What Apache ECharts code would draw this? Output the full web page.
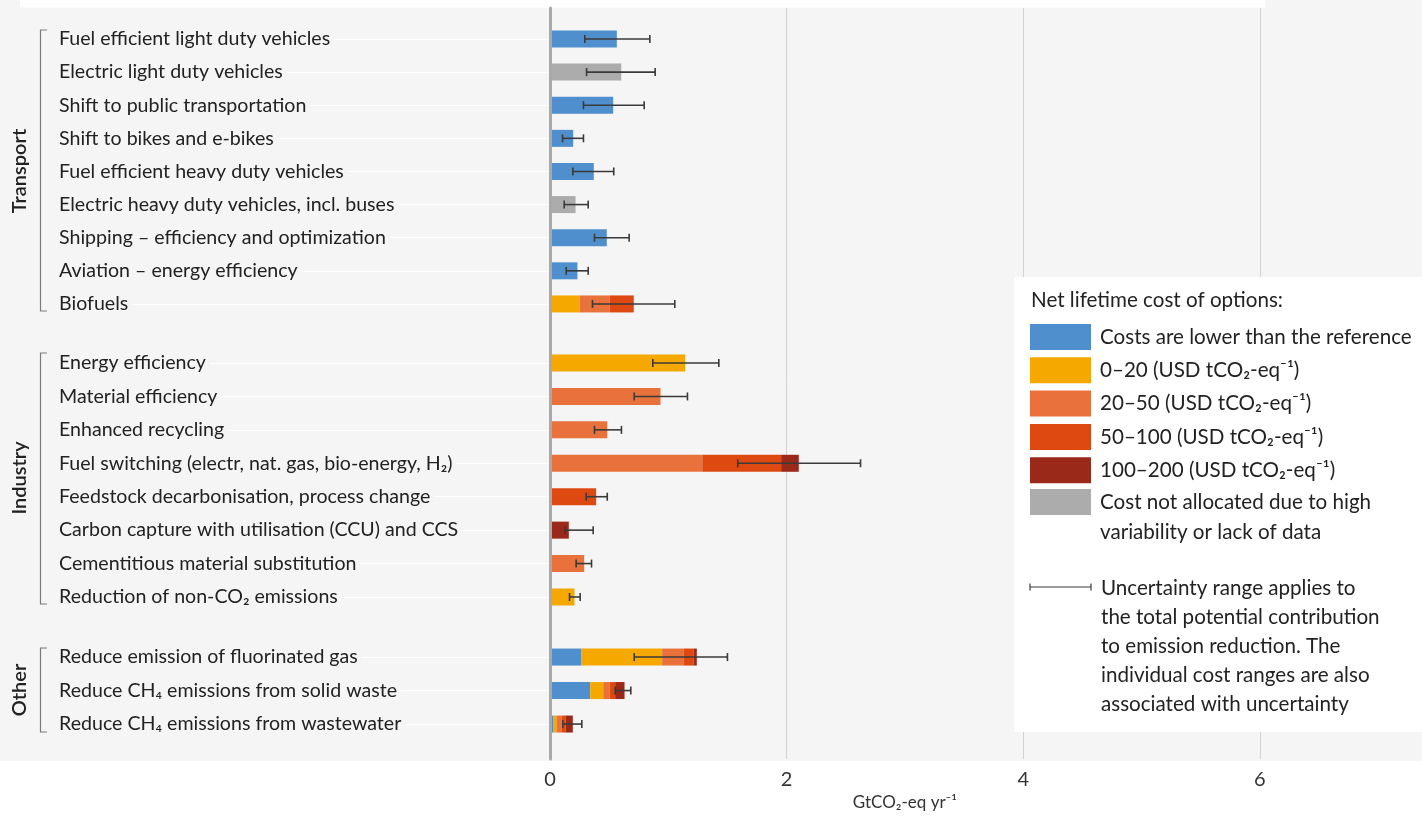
<!DOCTYPE html>
<html>
<head>
<meta charset="utf-8">
<script src="https://cdn.jsdelivr.net/npm/echarts@6/dist/echarts.min.js"></script>
<style>
  html, body { margin: 0; padding: 0; background: #ffffff; }
  #chart { width: 1422px; height: 816px; }
</style>
</head>
<body>
<div id="chart"></div>
<script>
// ---- Categories -----------------------------------------------------------
const transportRows = [
  'Fuel efficient light duty vehicles',
  'Electric light duty vehicles',
  'Shift to public transportation',
  'Shift to bikes and e-bikes',
  'Fuel efficient heavy duty vehicles',
  'Electric heavy duty vehicles, incl. buses',
  'Shipping – efficiency and optimization',
  'Aviation – energy efficiency',
  'Biofuels'
];
const industryRows = [
  'Energy efficiency',
  'Material efficiency',
  'Enhanced recycling',
  'Fuel switching (electr, nat. gas, bio-energy, H₂)',
  'Feedstock decarbonisation, process change',
  'Carbon capture with utilisation (CCU) and CCS',
  'Cementitious material substitution',
  'Reduction of non-CO₂ emissions'
];
const otherRows = [
  'Reduce emission of fluorinated gas',
  'Reduce CH₄ emissions from solid waste',
  'Reduce CH₄ emissions from wastewater'
];
const groupNames = ['Transport', 'Industry', 'Other'];

// ---- Cost classes ----------------------------------------------------------
const costClasses = [
  'Costs are lower than the reference',
  '0–20 (USD tCO₂-eq⁻¹)',
  '20–50 (USD tCO₂-eq⁻¹)',
  '50–100 (USD tCO₂-eq⁻¹)',
  '100–200 (USD tCO₂-eq⁻¹)',
  'Cost not allocated due to high variability or lack of data'
];
const costColors = ['#4f8fcd', '#f5a800', '#e8713c', '#de4911', '#9b291a', '#acacac'];

// ---- Potentials (GtCO2-eq/yr) per cost class --------------------------------
const transportLower   = [0.565, 0, 0.534, 0.196, 0.370, 0, 0.480, 0.232, 0];
const transport0to20   = [0, 0, 0, 0, 0, 0, 0, 0, 0.250];
const transport20to50  = [0, 0, 0, 0, 0, 0, 0, 0, 0.253];
const transport50to100 = [0, 0, 0, 0, 0, 0, 0, 0, 0.205];
const transport100to200= [0, 0, 0, 0, 0, 0, 0, 0, 0];
const transportNA      = [0, 0.602, 0, 0, 0, 0.216, 0, 0, 0];
const transportErrLow  = [0.294, 0.309, 0.283, 0.106, 0.193, 0.120, 0.376, 0.137, 0.359];
const transportErrHigh = [0.844, 0.889, 0.796, 0.283, 0.539, 0.323, 0.669, 0.323, 1.055];

const industryLower    = [0, 0, 0, 0, 0, 0, 0, 0];
const industry0to20    = [1.143, 0, 0, 0, 0, 0, 0, 0.207];
const industry20to50   = [0, 0.934, 0.484, 1.287, 0, 0, 0.289, 0];
const industry50to100  = [0, 0, 0, 0.667, 0.390, 0, 0, 0];
const industry100to200 = [0, 0, 0, 0.149, 0, 0.159, 0, 0];
const industryNA       = [0, 0, 0, 0, 0, 0, 0, 0];
const industryErrLow   = [0.869, 0.712, 0.376, 1.587, 0.306, 0.128, 0.221, 0.165];
const industryErrHigh  = [1.427, 1.162, 0.604, 2.625, 0.484, 0.365, 0.351, 0.255];

const otherLower       = [0.266, 0.340, 0.030];
const other0to20       = [0.682, 0.110, 0.027];
const other20to50      = [0.180, 0.053, 0.043];
const other50to100     = [0.085, 0.048, 0.031];
const other100to200    = [0.028, 0.079, 0.062];
const otherNA          = [0, 0, 0];
const otherErrLow      = [0.712, 0.551, 0.108];
const otherErrHigh     = [1.500, 0.683, 0.269];

// ---- Axis ------------------------------------------------------------------
const xTicks = [0, 2, 4, 6];
const xAxisName = 'GtCO₂-eq yr⁻¹';

const FONT = 'Lato, "Liberation Sans", "Noto Sans", sans-serif';
const PLOT_LEFT = 550;
const PLOT_WIDTH = 709.8;          // 0 .. 6 on the value axis
const X_MAX = xTicks[xTicks.length - 1];

const groups = [
  { rows: transportRows, classes: [transportLower, transport0to20, transport20to50, transport50to100, transport100to200, transportNA],
    errLow: transportErrLow, errHigh: transportErrHigh, top: 22.4, height: 298.1 },
  { rows: industryRows, classes: [industryLower, industry0to20, industry20to50, industry50to100, industry100to200, industryNA],
    errLow: industryErrLow, errHigh: industryErrHigh, top: 346.3, height: 267.4 },
  { rows: otherRows, classes: [otherLower, other0to20, other20to50, other50to100, other100to200, otherNA],
    errLow: otherErrLow, errHigh: otherErrHigh, top: 640.3, height: 100.5 }
];

// error bar: horizontal whisker with end caps
function renderWhisker(params, api) {
  const cat = api.value(0);
  const a = api.coord([api.value(1), cat]);
  const b = api.coord([api.value(2), cat]);
  const cap = 4;
  const style = { stroke: '#3a3a3a', lineWidth: 1.6 };
  return {
    type: 'group',
    children: [
      { type: 'line', shape: { x1: a[0], y1: a[1], x2: b[0], y2: b[1] }, style },
      { type: 'line', shape: { x1: a[0], y1: a[1] - cap, x2: a[0], y2: a[1] + cap }, style },
      { type: 'line', shape: { x1: b[0], y1: b[1] - cap, x2: b[0], y2: b[1] + cap }, style }
    ]
  };
}

const grids = [{ left: PLOT_LEFT, width: PLOT_WIDTH, top: 8, bottom: 49 }];
const xAxes = [{
  type: 'value', gridIndex: 0, min: 0, max: X_MAX, interval: 2,
  axisLine: { show: false }, axisTick: { show: false },
  splitLine: { show: true, lineStyle: { color: '#d2d2d2', width: 1 } },
  axisLabel: { margin: 10, fontSize: 20, color: '#333', fontFamily: FONT },
  name: xAxisName, nameLocation: 'middle', nameGap: 27,
  nameTextStyle: { fontSize: 17, color: '#333', fontFamily: FONT }
}];
const yAxes = [{
  type: 'value', gridIndex: 0, z: 10,
  axisLine: { show: true, lineStyle: { color: '#a9a9a9', width: 3 } },
  axisTick: { show: false }, axisLabel: { show: false }, splitLine: { show: false }
}];
const series = [];

groups.forEach((g, gi) => {
  const idx = gi + 1;
  grids.push({ left: PLOT_LEFT, width: PLOT_WIDTH, top: g.top, height: g.height });
  xAxes.push({ type: 'value', gridIndex: idx, min: 0, max: X_MAX, show: false });
  yAxes.push({
    type: 'category', gridIndex: idx, data: g.rows, inverse: true,
    axisLine: { show: false },
    axisTick: { show: true, alignWithLabel: true, interval: 0, length: 490,
                lineStyle: { color: '#ffffff', width: 1.2 } },
    axisLabel: { interval: 0, align: 'left', margin: 491, fontSize: 19.6, color: '#222',
                 fontFamily: FONT, backgroundColor: '#f5f5f5', padding: [1, 4, 1, 0] },
    splitLine: { show: false }
  });
  costClasses.forEach((name, ci) => {
    series.push({
      type: 'bar', name: name, stack: 'g' + gi,
      xAxisIndex: idx, yAxisIndex: idx,
      barWidth: 17,
      itemStyle: { color: costColors[ci] },
      emphasis: { disabled: true },
      data: g.classes[ci]
    });
  });
  series.push({
    type: 'custom', name: 'uncertainty', xAxisIndex: idx, yAxisIndex: idx, z: 4,
    renderItem: renderWhisker,
    encode: { x: [1, 2], y: 0 },
    data: g.rows.map((r, i) => [i, g.errLow[i], g.errHigh[i]])
  });
});

const legendText = { fontSize: 20.6, color: '#222', fontFamily: FONT, lineHeight: 30, padding: [0, 0, 0, 4] };

const option = {
  animation: false,
  backgroundColor: '#ffffff',
  grid: grids,
  xAxis: xAxes,
  yAxis: yAxes,
  series: series,
  legend: [
    {
      orient: 'vertical', left: 1030, top: 322, padding: 0,
      itemWidth: 61, itemHeight: 26, itemGap: 3.3, icon: 'rect',
      data: costClasses.slice(0, 5),
      textStyle: legendText
    },
    {
      orient: 'vertical', left: 1030, top: 457, padding: 0,
      itemWidth: 61, itemHeight: 26, icon: 'rect',
      data: [costClasses[5]],
      formatter: () => '\nCost not allocated due to high\nvariability or lack of data',
      textStyle: legendText
    }
  ],
  graphic: [
    // panel background
    { type: 'rect', z: -100, silent: true, shape: { x: 0, y: 0, width: 1422, height: 761 }, style: { fill: '#f5f5f5' } },
    { type: 'rect', z: -90, silent: true, shape: { x: 20, y: 0, width: 1245, height: 7.5 }, style: { fill: '#ffffff' } },
    // legend box
    { type: 'rect', z: 1, silent: true, shape: { x: 1014, y: 277, width: 420, height: 455 }, style: { fill: '#ffffff' } },
    { type: 'text', z: 5, silent: true, x: 1031, y: 300,
      style: { text: 'Net lifetime cost of options:', font: '20.6px ' + FONT, fill: '#222', verticalAlign: 'middle' } },
    { type: 'polyline', z: 5, silent: true, shape: { points: [[1030, 583.5], [1030, 590.5]] }, style: { stroke: '#3a3a3a', lineWidth: 1.2 } },
    { type: 'polyline', z: 5, silent: true, shape: { points: [[1030, 587], [1091, 587]] }, style: { stroke: '#3a3a3a', lineWidth: 1.2 } },
    { type: 'polyline', z: 5, silent: true, shape: { points: [[1091, 583.5], [1091, 590.5]] }, style: { stroke: '#3a3a3a', lineWidth: 1.2 } },
    { type: 'text', z: 5, silent: true, x: 1101, y: 573.5,
      style: { text: 'Uncertainty range applies to\nthe total potential contribution\nto emission reduction. The\nindividual cost ranges are also\nassociated with uncertainty',
               font: '20.6px ' + FONT, fill: '#222', lineHeight: 29, verticalAlign: 'top' } },
    // group brackets
    { type: 'polyline', z: 5, silent: true, shape: { points: [[47, 30], [40.5, 30], [40.5, 311], [47, 311]] }, style: { stroke: '#7a7a7a', lineWidth: 1.2, fill: null } },
    { type: 'polyline', z: 5, silent: true, shape: { points: [[47, 353], [40.5, 353], [40.5, 604], [47, 604]] }, style: { stroke: '#7a7a7a', lineWidth: 1.2, fill: null } },
    { type: 'polyline', z: 5, silent: true, shape: { points: [[47, 648], [40.5, 648], [40.5, 732], [47, 732]] }, style: { stroke: '#7a7a7a', lineWidth: 1.2, fill: null } },
    { type: 'text', z: 5, silent: true, x: 20, y: 171, rotation: Math.PI / 2,
      style: { text: groupNames[0], font: '600 20px ' + FONT, fill: '#222', align: 'center', verticalAlign: 'middle' } },
    { type: 'text', z: 5, silent: true, x: 20, y: 478, rotation: Math.PI / 2,
      style: { text: groupNames[1], font: '600 20px ' + FONT, fill: '#222', align: 'center', verticalAlign: 'middle' } },
    { type: 'text', z: 5, silent: true, x: 20, y: 690, rotation: Math.PI / 2,
      style: { text: groupNames[2], font: '600 20px ' + FONT, fill: '#222', align: 'center', verticalAlign: 'middle' } }
  ]
};

const chart = echarts.init(document.getElementById('chart'), null, { renderer: 'canvas' });
chart.setOption(option);
</script>
</body>
</html>
